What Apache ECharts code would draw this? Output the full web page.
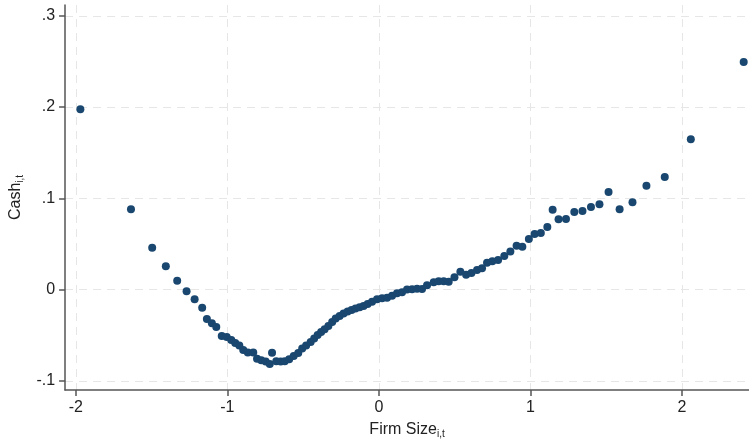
<!DOCTYPE html>
<html>
<head>
<meta charset="utf-8">
<script src="https://cdn.jsdelivr.net/npm/echarts@6/dist/echarts.min.js"></script>
<style>
  html, body { margin: 0; padding: 0; background: #ffffff; }
  #chart { width: 749px; height: 444px; }
</style>
</head>
<body>
<div id="chart"></div>
<script>
// Binned scatter: firm size (x) against cash holdings (y)
const firmSize = [
  -1.970, -1.636, -1.496, -1.406, -1.331, -1.269, -1.216, -1.166, -1.135, -1.102,
  -1.073, -1.037, -1.004, -0.974, -0.948, -0.921, -0.895, -0.865, -0.829, -0.804,
  -0.776, -0.747, -0.720, -0.705, -0.677, -0.648, -0.621, -0.592, -0.562, -0.532,
  -0.506, -0.480, -0.450, -0.427, -0.404, -0.381, -0.358, -0.333, -0.308, -0.285,
  -0.259, -0.233, -0.206, -0.180, -0.154, -0.127, -0.101, -0.074, -0.045, -0.012,
   0.021,  0.054,  0.087,  0.120,  0.153,  0.186,  0.219,  0.252,  0.285,  0.318,
   0.362,  0.395,  0.428,  0.461,  0.499,  0.538,  0.576,  0.611,  0.648,  0.681,
   0.714,  0.749,  0.787,  0.828,  0.868,  0.909,  0.947,  0.990,  1.028,  1.069,
   1.112,  1.147,  1.186,  1.235,  1.290,  1.344,  1.400,  1.456,  1.516,  1.589,
   1.674,  1.766,  1.887,  2.059,  2.408
];
const cash = [
   0.1975,  0.0879,  0.0458,  0.0254,  0.0096, -0.0020, -0.0107, -0.0199, -0.0323, -0.0370,
  -0.0411, -0.0510, -0.0521, -0.0553, -0.0586, -0.0614, -0.0663, -0.0690, -0.0690, -0.0759,
  -0.0776, -0.0789, -0.0816, -0.0693, -0.0787, -0.0789, -0.0787, -0.0765, -0.0729, -0.0696,
  -0.0647, -0.0614, -0.0575, -0.0537, -0.0499, -0.0466, -0.0436, -0.0400, -0.0356, -0.0318,
  -0.0290, -0.0263, -0.0241, -0.0225, -0.0208, -0.0195, -0.0181, -0.0159, -0.0135, -0.0107,
  -0.0096, -0.0090, -0.0068, -0.0042, -0.0031,  0.0000,  0.0002,  0.0009,  0.0005,  0.0046,
   0.0079,  0.0090,  0.0090,  0.0085,  0.0134,  0.0195,  0.0162,  0.0181,  0.0214,  0.0232,
   0.0294,  0.0309,  0.0323,  0.0367,  0.0416,  0.0480,  0.0469,  0.0553,  0.0608,  0.0619,
   0.0685,  0.0875,  0.0769,  0.0773,  0.0849,  0.0860,  0.0904,  0.0934,  0.1068,  0.0880,
   0.0956,  0.1138,  0.1233,  0.1646,  0.2493
];

// Axis ticks and their printed labels
const xTicks = [-2, -1, 0, 1, 2];
const xTickLabels = ['-2', '-1', '0', '1', '2'];
const yTicks = [-0.1, 0, 0.1, 0.2, 0.3];
const yTickLabels = ['-.1', '0', '.1', '.2', '.3'];

const points = firmSize.map((x, i) => [x, cash[i]]);

const FONT = '"Liberation Sans", Arial, Helvetica, sans-serif';
const axisLineStyle = { color: '#555555', width: 1.5 };
const gridLineStyle = { color: '#e6e6e6', width: 1, type: [8, 6] };

const titleRich = {
  a: { fontFamily: FONT, fontSize: 16, color: '#222222' },
  b: { fontFamily: FONT, fontSize: 10, color: '#222222', verticalAlign: 'bottom', padding: [9, 0, 0, 0] }
};

const chart = echarts.init(document.getElementById('chart'), null, { renderer: 'canvas' });
chart.setOption({
  animation: false,
  backgroundColor: '#ffffff',
  grid: { left: 64, right: 0, top: 5, bottom: 54, containLabel: false },
  xAxis: {
    type: 'value',
    min: -2.071,
    max: 2.443,
    name: '{a|Firm Size}{b|i,t}',
    nameLocation: 'middle',
    nameGap: 30,
    nameTextStyle: { rich: titleRich },
    axisLine: { show: true, onZero: false, lineStyle: axisLineStyle },
    axisTick: { show: true, length: 6, lineStyle: axisLineStyle, customValues: xTicks },
    axisLabel: {
      customValues: xTicks,
      margin: 10,
      fontFamily: FONT, fontSize: 16, color: '#222222',
      formatter: v => xTickLabels[xTicks.indexOf(v)]
    },
    splitLine: { show: true, lineStyle: gridLineStyle }
  },
  yAxis: {
    type: 'value',
    min: -0.1101,
    max: 0.3118,
    name: '{a|Cash}{b|i,t}',
    nameLocation: 'middle',
    nameGap: 38,
    nameRotate: 90,
    nameTextStyle: { rich: titleRich },
    axisLine: { show: true, onZero: false, lineStyle: axisLineStyle },
    axisTick: { show: true, length: 6, lineStyle: axisLineStyle, customValues: yTicks },
    axisLabel: {
      customValues: yTicks,
      margin: 10,
      fontFamily: FONT, fontSize: 16, color: '#222222',
      formatter: v => {
        const i = yTicks.findIndex(t => Math.abs(t - v) < 1e-9);
        return i >= 0 ? yTickLabels[i] : '';
      }
    },
    splitLine: { show: true, lineStyle: gridLineStyle }
  },
  series: [{
    type: 'scatter',
    data: points,
    symbol: 'circle',
    symbolSize: 8,
    itemStyle: { color: '#1a476f', opacity: 1 },
    clip: false
  }]
});
</script>
</body>
</html>
